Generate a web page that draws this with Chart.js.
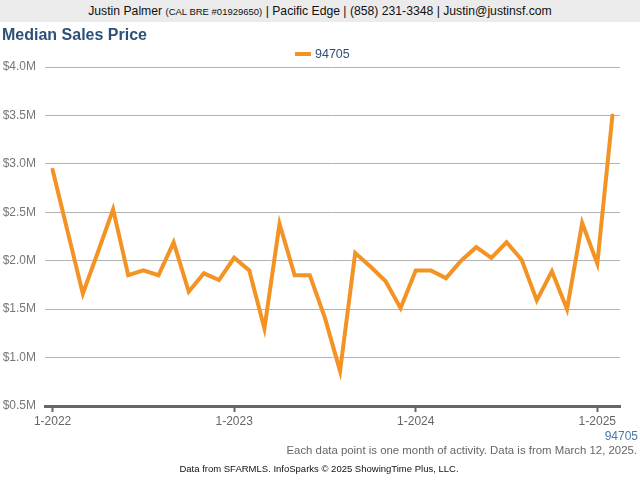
<!DOCTYPE html>
<html>
<head>
<meta charset="utf-8">
<script src="https://cdn.jsdelivr.net/npm/chart.js@4/dist/chart.umd.min.js"></script>
<style>
  html, body { margin: 0; padding: 0; background: #fff; }
  body { width: 640px; height: 480px; position: relative; overflow: hidden; font-family: "Liberation Sans", Arial, sans-serif; }
  #wrap { position: absolute; left: 0; top: 0; width: 640px; height: 480px; }
  .abs { position: absolute; white-space: nowrap; }
  #header { left: 0; top: 0; width: 640px; height: 22px; background: #ebebeb; text-align: center; font-size: 12.2px; line-height: 23px; color: #111; }
  #header small { font-size: 9.5px; }
  #title { left: 2px; top: 26px; font-size: 16px; font-weight: bold; color: #2c5078; }
  #legend { left: 295px; top: 46px; font-size: 12.5px; color: #2c5078; line-height: 16px; }
  #legend i { display: inline-block; width: 16px; height: 4px; background: #f39324; vertical-align: middle; margin-right: 4px; position: relative; top: -1px; }
  #zip { right: 2px; top: 429px; font-size: 12px; color: #4a78a8; }
  #note { right: 3px; top: 444px; font-size: 11.4px; color: #666; }
  #src { left: 0; width: 638px; text-align: center; top: 463px; font-size: 9.5px; color: #111; }
</style>
</head>
<body>
<div id="wrap"><canvas id="c" width="640" height="480"></canvas></div>
<div id="header" class="abs">Justin Palmer <small>(CAL BRE #01929650)</small> | Pacific Edge | (858) 231-3348 | Justin@justinsf.com</div>
<div id="title" class="abs">Median Sales Price</div>
<div id="legend" class="abs"><i></i>94705</div>
<div id="zip" class="abs">94705</div>
<div id="note" class="abs">Each data point is one month of activity. Data is from March 12, 2025.</div>
<div id="src" class="abs">Data from SFARMLS. InfoSparks © 2025 ShowingTime Plus, LLC.</div>
<script>
// Months Jan 2022 .. Feb 2025
const months = [
  "1-2022","2-2022","3-2022","4-2022","5-2022","6-2022","7-2022","8-2022","9-2022","10-2022","11-2022","12-2022",
  "1-2023","2-2023","3-2023","4-2023","5-2023","6-2023","7-2023","8-2023","9-2023","10-2023","11-2023","12-2023",
  "1-2024","2-2024","3-2024","4-2024","5-2024","6-2024","7-2024","8-2024","9-2024","10-2024","11-2024","12-2024",
  "1-2025","2-2025"
];
// Median sales price, millions of dollars
const medianPrice = [
  2.94, 2.30, 1.66, 2.09, 2.53, 1.85, 1.90, 1.85, 2.19, 1.68, 1.87, 1.80,
  2.03, 1.90, 1.30, 2.38, 1.85, 1.85, 1.41, 0.86, 2.08, 1.94, 1.79, 1.51,
  1.90, 1.90, 1.82, 2.00, 2.14, 2.03, 2.19, 2.01, 1.59, 1.89, 1.50, 2.39,
  1.97, 3.50
];
const seriesName = "94705";
const yTicks = [0.5, 1.0, 1.5, 2.0, 2.5, 3.0, 3.5, 4.0];
const xTickLabels = ["1-2022", "1-2023", "1-2024", "1-2025"];

const points = medianPrice.map((v, i) => ({ x: i, y: v }));
const xTickIdx = xTickLabels.map(l => months.indexOf(l));

new Chart(document.getElementById('c'), {
  type: 'line',
  data: {
    datasets: [{
      label: seriesName,
      data: points,
      borderColor: '#f39324',
      backgroundColor: '#f39324',
      borderWidth: 4,
      pointRadius: 0,
      tension: 0,
      borderJoinStyle: 'miter',
      borderCapStyle: 'round'
    }]
  },
  options: {
    responsive: false,
    animation: false,
    layout: { padding: { left: 0, right: 20, top: 67, bottom: 44 } },
    plugins: { legend: { display: false }, tooltip: { enabled: false } },
    scales: {
      x: {
        type: 'linear',
        min: -0.5,
        max: months.length - 0.5,
        afterBuildTicks: s => { s.ticks = xTickIdx.map(v => ({ value: v })); },
        afterFit: s => { s.height = 30; },
        ticks: {
          autoSkip: false,
          maxRotation: 0,
          padding: 2,
          color: '#666',
          font: { family: '"Liberation Sans", Arial, sans-serif', size: 12 },
          callback: v => months[v]
        },
        grid: { drawOnChartArea: false, drawTicks: true, tickLength: 6, tickWidth: 2, tickColor: '#666' },
        border: { display: true, color: '#666', width: 3 }
      },
      y: {
        min: yTicks[0],
        max: yTicks[yTicks.length - 1],
        afterBuildTicks: s => { s.ticks = yTicks.map(v => ({ value: v })); },
        afterFit: s => { s.width = 45; },
        ticks: {
          padding: 9,
          color: '#777',
          font: { family: '"Liberation Sans", Arial, sans-serif', size: 12 },
          callback: v => '$' + v.toFixed(1) + 'M'
        },
        grid: { color: '#b3b3b3', lineWidth: 1, drawTicks: false },
        border: { display: false }
      }
    }
  }
});
</script>
</body>
</html>
